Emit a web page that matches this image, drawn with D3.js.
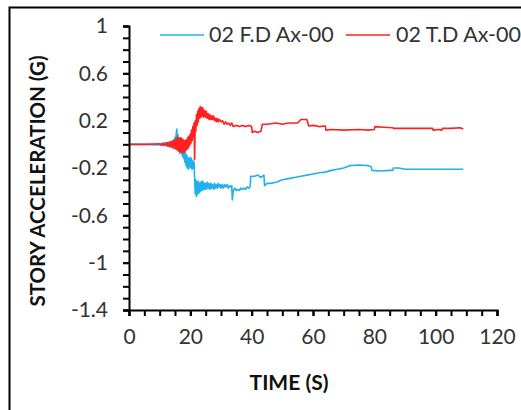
<!DOCTYPE html>
<html>
<head>
<meta charset="utf-8">
<script src="https://cdn.jsdelivr.net/npm/d3@7"></script>
<style>
  html, body { margin: 0; padding: 0; background: #fff; }
  svg { display: block; }
  text { font-family: Lato, "Liberation Sans", sans-serif; }
</style>
</head>
<body>
<svg id="chart" width="521" height="410"></svg>
<script>
// ---- data ----
const seriesNames = ["02 F.D Ax-00", "02 T.D Ax-00"];
const seriesColors = ["#1fb1ec", "#ff2020"];

const timeFD = [0,5,10,10.5,11,11.5,12,12.3,12.6,13,13.3,13.6,14,14.3,14.6,15,15.2,15.4,15.6,15.8,16,16.2,16.4,16.6,16.8,17,17.2,17.4,17.6,17.8,18,18.2,18.4,18.6,18.8,19,19.2,19.4,19.6,19.8,20,20.2,20.4,20.6,20.8,21,21.2,21.4,21.6,21.8,22,22.2,22.4,22.6,22.8,23,23.2,23.4,23.6,23.8,24,24.3,24.6,24.9,25.2,25.5,25.8,26.1,26.4,26.7,27,27.3,27.6,27.9,28.2,28.5,28.8,29.1,29.4,29.7,30,30.4,30.8,31.2,31.6,32,32.4,32.8,33.2,33.5,33.7,34,34.5,35,35.5,36,36.5,37,37.5,38,38.5,39,39.5,39.7,41,42,43,44,44.2,45,46,48,49,50,52,54,56,58,60,62,64,66,68,70,72,75,78,79,79.2,82,85,86,86.2,88,90,95,100,105,109];
const accFD = [0,0,-0.005,0.008,-0.01,0.012,-0.008,0.015,-0.015,0.02,-0.02,0.025,-0.025,0.035,-0.03,0.06,-0.04,0.09,0.13,-0.05,0.08,-0.06,0.05,-0.08,0.03,-0.07,0.01,-0.1,-0.01,-0.12,-0.04,-0.15,-0.07,-0.18,-0.09,-0.2,-0.11,-0.21,-0.12,-0.19,-0.11,-0.2,-0.12,-0.21,-0.14,-0.2,-0.15,-0.28,-0.42,-0.3,-0.44,-0.32,-0.42,-0.31,-0.41,-0.33,-0.4,-0.32,-0.39,-0.31,-0.39,-0.32,-0.38,-0.33,-0.38,-0.32,-0.37,-0.33,-0.38,-0.33,-0.37,-0.34,-0.38,-0.33,-0.37,-0.34,-0.37,-0.33,-0.36,-0.34,-0.37,-0.34,-0.37,-0.34,-0.36,-0.34,-0.37,-0.35,-0.36,-0.35,-0.47,-0.39,-0.37,-0.39,-0.38,-0.39,-0.37,-0.38,-0.37,-0.38,-0.36,-0.37,-0.36,-0.27,-0.27,-0.26,-0.28,-0.26,-0.35,-0.33,-0.33,-0.32,-0.31,-0.3,-0.29,-0.28,-0.27,-0.26,-0.25,-0.24,-0.235,-0.22,-0.21,-0.2,-0.18,-0.175,-0.18,-0.19,-0.22,-0.225,-0.22,-0.22,-0.2,-0.2,-0.21,-0.21,-0.21,-0.21,-0.21];

const timeTD = [0,5,10,10.5,11,11.5,12,12.3,12.6,13,13.3,13.6,14,14.3,14.6,15,15.2,15.4,15.6,15.8,16,16.2,16.4,16.6,16.8,17,17.2,17.4,17.6,17.8,18,18.2,18.4,18.6,18.8,19,19.2,19.4,19.6,19.8,20,20.2,20.4,20.6,20.8,21,21.2,21.4,21.6,21.8,22,22.2,22.4,22.6,22.8,23,23.2,23.4,23.6,23.8,24,24.3,24.6,24.9,25.2,25.5,25.8,26.1,26.4,26.7,27,27.3,27.6,27.9,28.2,28.5,28.8,29.1,29.5,30,30.5,31,31.5,32,32.5,33,33.5,34,35,36,37,38,39,40,40.2,41,42,43,43.5,45,48,50,52,55,56,57,58,58.6,60,62,64,64.2,66,70,75,78,80,80.2,83,86,86.2,90,95,99,99.2,101,102,102.2,105,108,109];
const accTD = [0,0,0.005,-0.008,0.01,-0.01,0.012,-0.012,0.015,-0.018,0.02,-0.022,0.025,-0.03,0.035,-0.035,0.045,-0.04,0.055,-0.05,0.06,-0.055,0.05,-0.06,0.055,-0.065,0.05,-0.07,0.04,-0.07,0.03,-0.06,0.035,-0.05,0.04,-0.04,0.06,-0.03,0.07,-0.01,0.09,0.01,0.12,0.03,0.15,0.06,0.18,-0.13,0.2,0.11,0.25,0.16,0.28,0.19,0.3,0.22,0.32,0.23,0.31,0.24,0.31,0.23,0.29,0.23,0.28,0.22,0.26,0.21,0.25,0.21,0.24,0.21,0.24,0.2,0.22,0.19,0.22,0.19,0.21,0.19,0.2,0.17,0.19,0.17,0.18,0.16,0.18,0.15,0.16,0.15,0.16,0.15,0.16,0.15,0.1,0.11,0.1,0.11,0.17,0.17,0.18,0.17,0.18,0.18,0.21,0.21,0.21,0.155,0.16,0.15,0.155,0.12,0.125,0.12,0.125,0.12,0.125,0.15,0.145,0.14,0.135,0.135,0.135,0.135,0.12,0.125,0.12,0.135,0.135,0.14,0.13];

const xTicks = [0,20,40,60,80,100,120];
const yTicks = [1,0.6,0.2,-0.2,-0.6,-1,-1.4];
const xTitle = "TIME (S)";
const yTitle = "STORY ACCELERATION (G)";

// ---- layout ----
const svg = d3.select("#chart");
const mLeft = 129, mRight = 497, mTop = 26, mBottom = 310;

const x = d3.scaleLinear().domain([0, 120]).range([mLeft, mRight]);
const y = d3.scaleLinear().domain([-1.4, 1]).range([mBottom, mTop]);

// outer border
svg.append("rect").attr("x", 9.5).attr("y", 7.5).attr("width", 540).attr("height", 440)
  .attr("fill", "none").attr("stroke", "#000").attr("stroke-width", 2);

// minor ticks
const xMinor = d3.range(0, 121, 5);
const yMinor = d3.range(-14, 11, 1).map(v => v / 10);

svg.append("g").attr("transform", `translate(0,${mBottom})`)
  .call(d3.axisBottom(x).tickValues(xMinor).tickSize(6).tickFormat(""))
  .call(g => g.select(".domain").remove())
  .call(g => g.selectAll("line").attr("stroke", "#000").attr("stroke-width", 2));

svg.append("g").attr("transform", `translate(${mLeft},0)`)
  .call(d3.axisLeft(y).tickValues(yMinor).tickSize(6).tickFormat(""))
  .call(g => g.select(".domain").remove())
  .call(g => g.selectAll("line").attr("stroke", "#000").attr("stroke-width", 2));

// series lines
const line = d3.line().x(d => x(d[0])).y(d => y(d[1]));
const dataFD = timeFD.map((t, i) => [t, accFD[i]]);
const dataTD = timeTD.map((t, i) => [t, accTD[i]]);

svg.append("path").datum(dataFD).attr("d", line)
  .attr("fill", "none").attr("stroke", seriesColors[0]).attr("stroke-width", 1.6)
  .attr("stroke-linejoin", "round");
svg.append("path").datum(dataTD).attr("d", line)
  .attr("fill", "none").attr("stroke", seriesColors[1]).attr("stroke-width", 1.6)
  .attr("stroke-linejoin", "round");

// major axes
const xAxis = svg.append("g").attr("transform", `translate(0,${mBottom})`)
  .call(d3.axisBottom(x).tickValues(xTicks).tickSize(6).tickPadding(13).tickFormat(d => String(d)));
const yAxis = svg.append("g").attr("transform", `translate(${mLeft},0)`)
  .call(d3.axisLeft(y).tickValues(yTicks).tickSize(6).tickPadding(15).tickFormat(d => String(d)));

[xAxis, yAxis].forEach(g => {
  g.select(".domain").attr("stroke", "#000").attr("stroke-width", 2);
  g.selectAll(".tick line").attr("stroke", "#000").attr("stroke-width", 2);
  g.selectAll(".tick text").attr("fill", "#333").style("font-size", "21px")
    .style("font-family", "Lato, 'Liberation Sans', sans-serif");
});

// axis titles
svg.append("text").attr("x", (mLeft + mRight) / 2 - 24).attr("y", 390)
  .attr("text-anchor", "middle").attr("font-weight", "bold").attr("font-size", 21)
  .attr("fill", "#111").text(xTitle);
svg.append("text").attr("transform", "translate(45,181) rotate(-90)")
  .attr("text-anchor", "middle").attr("font-weight", "bold").attr("font-size", 20.5)
  .attr("fill", "#111").text(yTitle);

// legend
const legendItems = [
  { lx: 160, tx: 209 },
  { lx: 346, tx: 396 }
];
legendItems.forEach((p, i) => {
  svg.append("line").attr("x1", p.lx).attr("x2", p.lx + 44).attr("y1", 35).attr("y2", 35)
    .attr("stroke", seriesColors[i]).attr("stroke-width", 1.5);
  svg.append("text").attr("x", p.tx).attr("y", 42).attr("font-size", 21.5)
    .attr("fill", "#333").text(seriesNames[i]);
});
</script>
</body>
</html>
